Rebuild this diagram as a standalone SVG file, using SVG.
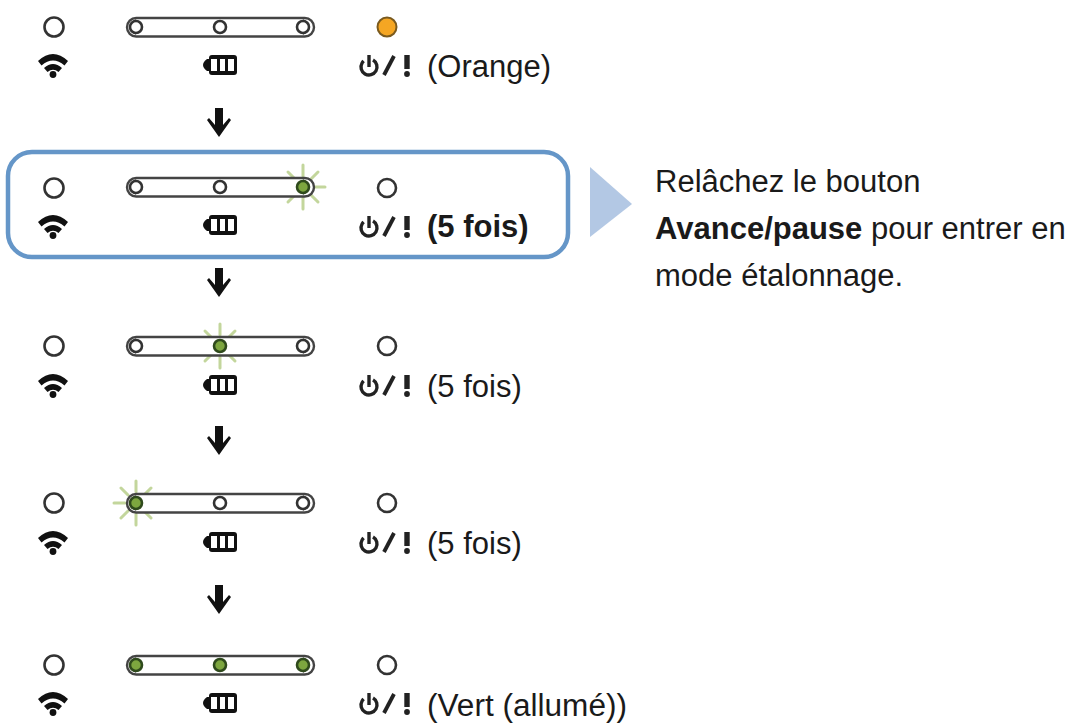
<svg xmlns="http://www.w3.org/2000/svg" xmlns:xlink="http://www.w3.org/1999/xlink" width="1073" height="724" viewBox="0 0 1073 724">
<style>
text{font-family:"Liberation Sans",Arial,sans-serif;fill:#1a1a1a}
.l{font-size:31px}
.b{font-weight:bold}
.led{fill:#fff;stroke:#333;stroke-width:2.6}
.bar{fill:#fff;stroke:#444;stroke-width:2.400}
.end{fill:none;stroke:#444;stroke-width:1.600}
.g{fill:#7da63f;stroke:#2f4a1c;stroke-width:2.6}
.ray{stroke:#c3d69c;stroke-width:3;stroke-linecap:round}
</style>
<defs>
<g id="wifi">
<path d="M-15 -4Q0 -18 15 -4L11.500 0.500Q0 -9.500 -11.500 0.500Z" fill="#111"/>
<path d="M-9 3Q0 -5 9 3L5.500 7Q0 2.500 -5.500 7Z" fill="#111"/>
<circle cx="0" cy="9.500" r="3.400" fill="#111"/>
</g>
<g id="batt">
<rect x="-11" y="-10" width="28" height="20" rx="3" fill="#111"/>
<path d="M-11 -6H-13Q-17 -3 -17 0Q-17 3 -13 6H-11Z" fill="#111"/>
<rect x="-9" y="-6" width="6" height="12" fill="#fff"/>
<rect x="0" y="-6" width="5" height="12" fill="#fff"/>
<rect x="8" y="-6" width="6" height="12" fill="#fff"/>
</g>
<g id="pow" fill="none" stroke="#222">
<circle cx="0" cy="2" r="8" stroke-width="3.400" stroke-dasharray="40 10.300" transform="rotate(-60 0 2)"/>
<path d="M0 -10V2" stroke-width="3.400"/>
<path d="M15 10L25 -9" stroke-width="3.800"/>
<path d="M38 -10L38 4" stroke-width="5.400"/>
<circle cx="38" cy="9" r="2.900" fill="#222" stroke="none"/>
</g>
<g id="rays" class="ray">
<path d="M0 -22V-11M0 22V11M-22 0H-11M22 0H11M-15 -15L-8 -8M15 -15L8 -8M-15 15L-8 8M15 15L8 8"/>
</g>
<g id="bar">
<rect class="bar" x="127" y="-9" width="187" height="18.500" rx="9.250"/>
<path class="end" d="M136 -7A7.500 7.500 0 0 0 136 7M303 -7A7.500 7.500 0 0 1 303 7"/>
</g>
<path id="arr" d="M-4 -15H4V2L10 -5L12 -3L0 14L-12 -3L-10 -5L-4 2Z" fill="#111"/>
</defs>

<g id="connectors">
<use xlink:href="#arr" x="219" y="123"/>
<use xlink:href="#arr" x="219" y="283"/>
<use xlink:href="#arr" x="219" y="441"/>
<use xlink:href="#arr" x="219" y="600"/>
<path d="M590 167L632 204L590 237Z" fill="#b3c8e4"/>
</g>

<g id="row1">
<circle class="led" cx="54" cy="27" r="9.500"/>
<use xlink:href="#bar" y="27"/>
<circle class="led" cx="136" cy="27" r="6"/><circle class="led" cx="220" cy="27" r="6"/><circle class="led" cx="303" cy="27" r="6"/>
<circle cx="387" cy="27" r="9.500" fill="#f5a623" stroke="#7a5a1e" stroke-width="2"/>
<use xlink:href="#wifi" x="53" y="65"/><use xlink:href="#batt" x="220" y="65"/><use xlink:href="#pow" x="369" y="65"/>
<text class="l" x="427" y="77">(Orange)</text>
</g>

<g id="row2">
<rect x="8" y="152" width="560" height="105" rx="24" fill="#fff" stroke="#6596c8" stroke-width="4.500"/>
<circle class="led" cx="54" cy="188" r="9.500"/>
<use xlink:href="#rays" x="303" y="187"/>
<use xlink:href="#bar" y="187"/>
<circle class="led" cx="136" cy="187" r="6"/><circle class="led" cx="220" cy="187" r="6"/><circle class="g" cx="303" cy="187" r="6"/>
<circle class="led" cx="387" cy="188" r="9"/>
<use xlink:href="#wifi" x="53" y="226"/><use xlink:href="#batt" x="220" y="225"/><use xlink:href="#pow" x="369" y="226"/>
<text class="l b" x="427" y="237">(5 fois)</text>
</g>

<g id="row3">
<circle class="led" cx="54" cy="346" r="9.500"/>
<use xlink:href="#rays" x="220" y="346"/>
<use xlink:href="#bar" y="346"/>
<circle class="led" cx="136" cy="346" r="6"/><circle class="g" cx="220" cy="346" r="6"/><circle class="led" cx="303" cy="346" r="6"/>
<circle class="led" cx="387" cy="346" r="9"/>
<use xlink:href="#wifi" x="53" y="385"/><use xlink:href="#batt" x="220" y="385"/><use xlink:href="#pow" x="369" y="385"/>
<text class="l" x="427" y="397">(5 fois)</text>
</g>

<g id="row4">
<circle class="led" cx="54" cy="503" r="9.500"/>
<use xlink:href="#rays" x="136" y="503"/>
<use xlink:href="#bar" y="503"/>
<circle class="g" cx="136" cy="503" r="6"/><circle class="led" cx="220" cy="503" r="6"/><circle class="led" cx="303" cy="503" r="6"/>
<circle class="led" cx="387" cy="503" r="9"/>
<use xlink:href="#wifi" x="53" y="542"/><use xlink:href="#batt" x="220" y="542"/><use xlink:href="#pow" x="369" y="542"/>
<text class="l" x="427" y="554">(5 fois)</text>
</g>

<g id="row5">
<circle class="led" cx="54" cy="665" r="9.500"/>
<use xlink:href="#bar" y="665"/>
<circle class="g" cx="136" cy="665" r="6"/><circle class="g" cx="220" cy="665" r="6"/><circle class="g" cx="303" cy="665" r="6"/>
<circle class="led" cx="387" cy="665" r="9"/>
<use xlink:href="#wifi" x="53" y="703"/><use xlink:href="#batt" x="220" y="703"/><use xlink:href="#pow" x="369" y="703"/>
<text class="l" x="427" y="716" textLength="200" lengthAdjust="spacingAndGlyphs">(Vert (allumé))</text>
</g>

<g id="note">
<text class="l" x="655" y="192">Relâchez le bouton</text>
<text class="l" x="655" y="239"><tspan class="b">Avance/pause</tspan> pour entrer en</text>
<text class="l" x="655" y="286">mode étalonnage.</text>
</g>
</svg>
